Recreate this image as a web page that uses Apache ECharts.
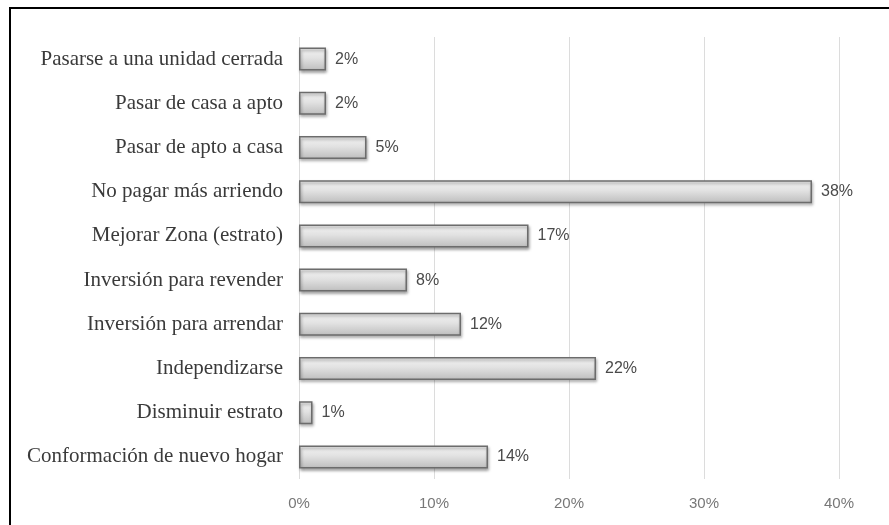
<!DOCTYPE html>
<html>
<head>
<meta charset="utf-8">
<script src="https://cdn.jsdelivr.net/npm/echarts@6/dist/echarts.min.js"></script>
<style>
  html, body { margin: 0; padding: 0; background: #ffffff; }
  #chart { width: 889px; height: 525px; }
</style>
</head>
<body>
<div id="chart"></div>
<script>
// Motivos de compra de vivienda (orden de arriba hacia abajo)
const categories = [
  'Pasarse a una unidad cerrada',
  'Pasar de casa a apto',
  'Pasar de apto a casa',
  'No pagar más arriendo',
  'Mejorar Zona (estrato)',
  'Inversión para revender',
  'Inversión para arrendar',
  'Independizarse',
  'Disminuir estrato',
  'Conformación de nuevo hogar'
];
// Porcentaje de respuestas
const values = [2, 2, 5, 38, 17, 8, 12, 22, 1, 14];
// Marcas del eje X
const xTicks = [0, 10, 20, 30, 40];

const chart = echarts.init(document.getElementById('chart'), null, { renderer: 'canvas' });

const barFill = new echarts.graphic.LinearGradient(0, 0, 0, 1, [
  { offset: 0, color: '#f4f4f4' },
  { offset: 0.45, color: '#e2e2e2' },
  { offset: 1, color: '#bdbdbd' }
]);

chart.setOption({
  animation: false,
  backgroundColor: '#ffffff',
  grid: { left: 299, right: 50, top: 37, bottom: 46, containLabel: false },
  xAxis: {
    type: 'value',
    min: xTicks[0],
    max: xTicks[xTicks.length - 1],
    interval: 10,
    axisLine: { show: false },
    axisTick: { show: false },
    splitLine: { show: true, lineStyle: { color: '#dcdcdc', width: 1 } },
    axisLabel: {
      margin: 17,
      color: '#777777',
      fontFamily: 'Liberation Sans',
      fontSize: 15,
      formatter: v => v + '%'
    }
  },
  yAxis: {
    type: 'category',
    data: categories,
    inverse: true,
    axisLine: { show: false },
    axisTick: { show: false },
    splitLine: { show: false },
    axisLabel: {
      margin: 16,
      color: '#3a3a3a',
      fontFamily: 'Liberation Serif',
      fontSize: 21
    }
  },
  series: [{
    type: 'bar',
    data: values,
    barCategoryGap: '48%',
    itemStyle: {
      color: barFill,
      borderColor: '#6c6c6c',
      borderWidth: 1.5,
      shadowColor: 'rgba(0,0,0,0.35)',
      shadowBlur: 3,
      shadowOffsetX: 1,
      shadowOffsetY: 2
    },
    label: {
      show: true,
      position: 'right',
      distance: 9,
      color: '#4a4a4a',
      fontFamily: 'Liberation Sans',
      fontSize: 16,
      formatter: p => p.value + '%'
    }
  }],
  graphic: [
    { type: 'line', shape: { x1: 10, y1: 8, x2: 889, y2: 8 }, style: { stroke: '#000', lineWidth: 2 } },
    { type: 'line', shape: { x1: 10, y1: 7, x2: 10, y2: 525 }, style: { stroke: '#000', lineWidth: 2 } }
  ]
});
</script>
</body>
</html>
